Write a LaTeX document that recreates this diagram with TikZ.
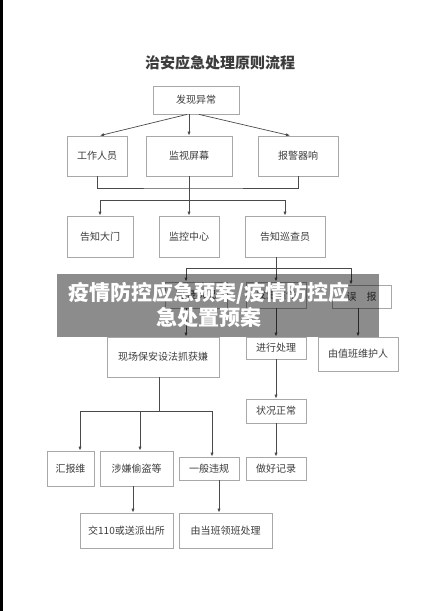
\documentclass[tikz,border=0pt]{standalone}
\usepackage{fontspec}
\setmainfont{Noto Sans CJK SC}
\usetikzlibrary{arrows.meta,positioning}
\definecolor{boxline}{HTML}{A8A8A8}
\definecolor{wire}{HTML}{4A4A4A}
\definecolor{ink}{HTML}{3C3C3C}

\begin{document}
\begin{tikzpicture}[x=1pt,y=-1pt,
	box/.style={draw=boxline, line width=0.8pt, inner sep=0pt, text=ink, font=\fontsize{10}{12}\selectfont},
	wire/.style={draw=wire, line width=0.7pt},
	go/.style={wire, -{Latex[length=4pt,width=3.2pt]}}]
		\useasboundingbox (0,0) rectangle (438,611);
		\fill (0,0) rectangle (2.5,611);
		
		% title
		\node[text=ink, font=\bfseries\fontsize{15}{18}\selectfont] (title) at (220,63) {治安应急处理原则流程};
		
		% top
		\node[box, minimum width=86, minimum height=28] (find) at (196,100) {发现异常};
		\node[box, minimum width=60, minimum height=40] (staff) at (97,156) {工作人员};
		\node[box, minimum width=86, minimum height=40] (screen) at (189,156) {监视屏幕};
		\node[box, minimum width=80, minimum height=40] (alarm) at (298,156) {报警器响};
		
		% middle
		\node[box, minimum width=66, minimum height=41] (gate) at (100,236.5) {告知大门};
		\node[box, minimum width=60, minimum height=41] (monitor) at (189,236.5) {监控中心};
		\node[box, minimum width=80, minimum height=41] (patrol) at (285,236.5) {告知巡查员};
		\node[box, minimum width=62, minimum height=26] (doubt) at (196,295) {可疑状况};
		\node[box, minimum width=60, minimum height=26] (case) at (276,295) {发生案件};
		\node[box, minimum width=59, minimum height=23] (falsealarm) at (361.5,296.5) {误\quad 报};
		\node[box, minimum width=112, minimum height=40] (catch) at (163,357) {现场保安设法抓获嫌};
		\node[box, minimum width=60, minimum height=22] (handle) at (276,348) {进行处理};
		\node[box, minimum width=80, minimum height=34] (guard) at (358,354) {由值班维护人};
		
		% right
		\node[box, minimum width=60, minimum height=24] (normal) at (276,411) {状况正常};
		\node[box, minimum width=60, minimum height=23] (record) at (276,468.5) {做好记录};
		
		% bottom
		\node[box, minimum width=47, minimum height=35] (report) at (70.5,468.5) {汇报维};
		\node[box, minimum width=73, minimum height=35] (theft) at (136.5,468.5) {涉嫌偷盗等};
		\node[box, minimum width=60, minimum height=23] (minor) at (209,468.5) {一般违规};
		\node[box, minimum width=93, minimum height=35] (police) at (126.5,530.5) {交110或送派出所};
		\node[box, minimum width=93, minimum height=35] (leader) at (225.5,530.5) {由当班领班处理};
		
		% top
		\draw[go] ([xshift=-9]find.south) -- ([xshift=3]staff.north);
		\draw[go] (find.south -| screen.north) -- (screen.north);
		\draw[go] ([xshift=3]find.south) -- ([xshift=-8]alarm.north);
		\coordinate (join1) at (189,188);
		\draw[wire] (staff.south) |- (join1) -| (alarm.south);
		\draw[go] (screen.south) -- (monitor.north);
		\coordinate (split1) at (189,200);
		\draw[go] (split1) -| (gate.north);
		\draw[go] (split1) -| (patrol.north);
		
		% middle
		\coordinate (split2) at (276,268);
		\draw[wire] (patrol.south -| split2) -- (split2);
		\draw[go] (split2) -| ([xshift=-10]doubt.north);
		\draw[go] (split2) -- (case.north);
		\draw[go] (split2) -| ([xshift=-10.5]falsealarm.north);
		\draw[go] ([xshift=-10]doubt.south) -- ([xshift=-10]doubt.south |- catch.north);
		\draw[go] (case.south) -- (handle.north);
		\draw[go] (falsealarm.south -| guard.north) -- (guard.north);
		
		% right
		\draw[go] (handle.south) -- (normal.north);
		\draw[go] (normal.south) -- (record.north);
		
		% bottom
		\coordinate (split3) at (159,411);
		\draw[wire] (catch.south -| split3) -- (split3);
		\draw[go] (split3) -| ([xshift=9.5]report.north);
		\draw[go] (split3) -| ([xshift=3.5]theft.north);
		\draw[go] (split3) -| ([xshift=3]minor.north);
		\draw[go] ([xshift=-3.5]theft.south) -- ([xshift=-3.5]theft.south |- police.north);
		\draw[go] ([xshift=10]minor.south) -- ([xshift=10]minor.south |- leader.north);
		
		% banner
		\fill[black, opacity=0.45] (57,274) rectangle (379,337);
		\node[text=white, font=\bfseries\fontsize{21}{25}\selectfont, align=center] (banner) at (209,304.5) {疫情防控应急预案/疫情防控应\\急处置预案};
\end{tikzpicture}
\end{document}
